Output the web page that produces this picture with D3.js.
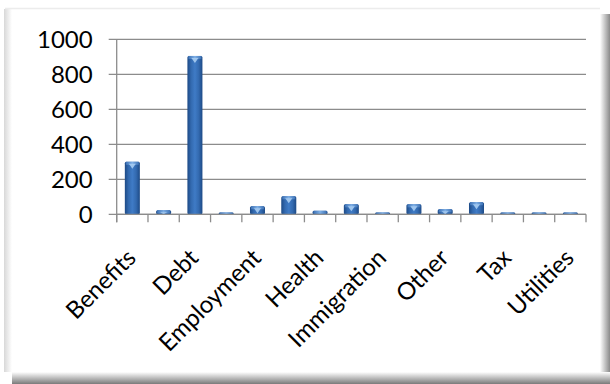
<!DOCTYPE html>
<html><head><meta charset="utf-8">
<script src="https://cdn.jsdelivr.net/npm/d3@7"></script>
<style>html,body{margin:0;padding:0;background:#fff}svg{display:block}</style>
</head><body><svg id="c" width="610" height="384"></svg>
<script>
const categories = ["Benefits","Consumer","Debt","Education","Employment","Family","Health","Housing","Immigration","Legal","Other","Relationships","Tax","Travel","Utilities"];
const values = [300,23,905,10,46,103,20,57,10,57,29,69,10,10,10];
const yTicks = [0,200,400,600,800,1000];

(function(){
const svg = d3.select("#c");
const W = 610, H = 384;
const defs = svg.append("defs");

// frame gradients
const gR = defs.append("linearGradient").attr("id","gR").attr("x1","0").attr("x2","1").attr("y1","0").attr("y2","0");
gR.append("stop").attr("offset","0").attr("stop-color","#ffffff");
gR.append("stop").attr("offset","1").attr("stop-color","#8a8a8a");
const gB = defs.append("linearGradient").attr("id","gB").attr("x1","0").attr("x2","0").attr("y1","0").attr("y2","1");
gB.append("stop").attr("offset","0").attr("stop-color","#ffffff");
gB.append("stop").attr("offset","1").attr("stop-color","#7a7a7a");
const gL = defs.append("linearGradient").attr("id","gL").attr("x1","0").attr("x2","1").attr("y1","0").attr("y2","0");
gL.append("stop").attr("offset","0").attr("stop-color","#d8d8d8");
gL.append("stop").attr("offset","1").attr("stop-color","#ffffff");

svg.append("rect").attr("x",0).attr("y",0).attr("width",W).attr("height",H).attr("fill","#fff");
svg.append("rect").attr("x",600).attr("y",14).attr("width",10).attr("height",370).attr("fill","url(#gR)");
svg.append("rect").attr("x",12).attr("y",372).attr("width",598).attr("height",12).attr("fill","url(#gB)");
svg.append("rect").attr("x",4).attr("y",9).attr("width",8).attr("height",363).attr("fill","url(#gL)");
svg.append("line").attr("x1",5).attr("x2",600).attr("y1",8.5).attr("y2",8.5).attr("stroke","#ececec").attr("stroke-width",1.5);

// bar gradients
const gBar = defs.append("linearGradient").attr("id","gBar").attr("x1","0").attr("x2","1").attr("y1","0").attr("y2","0");
[["0","#1d4a86"],["0.25","#336ab0"],["0.5","#3f7bc6"],["0.75","#336ab0"],["1","#1d4a86"]].forEach(s=>gBar.append("stop").attr("offset",s[0]).attr("stop-color",s[1]));
const gCap = defs.append("linearGradient").attr("id","gCap").attr("x1","0").attr("x2","1").attr("y1","0").attr("y2","0");
[["0","#3d72b6"],["0.5","#7fb0e6"],["1","#3d72b6"]].forEach(s=>gCap.append("stop").attr("offset",s[0]).attr("stop-color",s[1]));

const pLeft = 116.7, pRight = 586, pTop = 39.3, pBottom = 214.3;
const x = d3.scaleBand().domain(categories).range([pLeft,pRight]).paddingInner(0).paddingOuter(0);
const y = d3.scaleLinear().domain([0,1000]).range([pBottom,pTop]);
const font = "Lato, 'Open Sans', sans-serif";

// gridlines
svg.append("g").selectAll("line").data(yTicks).join("line")
  .attr("x1",pLeft-8).attr("x2",pRight).attr("y1",d=>y(d)).attr("y2",d=>y(d))
  .attr("stroke","#8c8c8c").attr("stroke-width",1.3);

// y axis line
svg.append("line").attr("x1",pLeft).attr("x2",pLeft).attr("y1",pTop).attr("y2",pBottom+8).attr("stroke","#8c8c8c").attr("stroke-width",1.3);

// y labels
const yAxis = d3.axisLeft(y).tickValues(yTicks).tickSize(0).tickPadding(0).tickFormat(d3.format("d"));
const ya = svg.append("g").attr("transform",`translate(${pLeft-24},0)`).call(yAxis);
ya.select(".domain").remove();
ya.selectAll("text").attr("font-family",font).attr("font-size",24).attr("fill","#000").attr("dy","0.36em");

// x boundary ticks
const xb = d3.scaleLinear().domain([0,categories.length]).range([pLeft,pRight]);
svg.append("g").selectAll("line").data(d3.range(categories.length+1)).join("line")
  .attr("x1",d=>xb(d)).attr("x2",d=>xb(d)).attr("y1",pBottom).attr("y2",pBottom+8)
  .attr("stroke","#8c8c8c").attr("stroke-width",1.3);

// bars
const bw = x.bandwidth()*0.48;
const bars = svg.append("g").selectAll("g").data(categories).join("g");
bars.append("rect")
  .attr("x",(d)=>x(d)+(x.bandwidth()-bw)/2).attr("width",bw)
  .attr("y",(d,i)=>y(values[i])).attr("height",(d,i)=>pBottom-y(values[i]))
  .attr("fill","url(#gBar)").attr("rx",1.5);
bars.append("rect")
  .attr("x",(d)=>x(d)+(x.bandwidth()-bw)/2+1).attr("width",bw-2)
  .attr("y",(d,i)=>y(values[i])).attr("height",(d,i)=>Math.min(3,pBottom-y(values[i])))
  .attr("fill","url(#gCap)");
bars.append("path")
  .attr("d",(d,i)=>{const cx=x(d)+x.bandwidth()/2, ty=y(values[i])+2; const h=Math.min(5,(pBottom-y(values[i]))-2); if(h<2) return ""; return `M${cx-3.5},${ty}L${cx+3.5},${ty}L${cx},${ty+h}Z`;})
  .attr("fill","#a9cdf2").attr("opacity",0.9);
svg.append("line").attr("x1",pLeft).attr("x2",pRight).attr("y1",pBottom).attr("y2",pBottom).attr("stroke","#8c8c8c").attr("stroke-width",1.3);

// x labels
const xAxis = d3.axisBottom(x).tickSize(0).tickFormat((d,i)=> i%2===0 ? d : "");
const xa = svg.append("g").attr("transform",`translate(0,${pBottom})`).call(xAxis);
xa.select(".domain").remove();
xa.selectAll(".tick text")
  .attr("font-family",font).attr("font-size",24).attr("fill","#000")
  .attr("text-anchor","end").attr("dy",null).attr("y",null)
  .attr("transform","translate(5,45) rotate(-45)");
})();
</script></body></html>
